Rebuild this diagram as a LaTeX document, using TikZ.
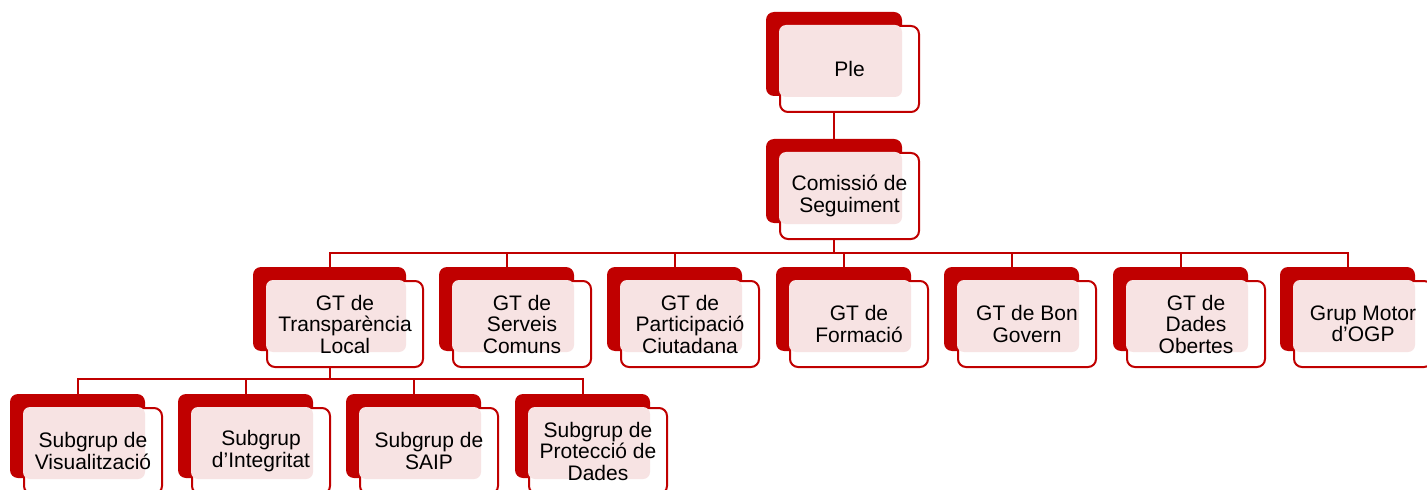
\documentclass[tikz,border=0pt]{standalone}
\usepackage{fontspec}
\setmainfont{Liberation Sans}
\usetikzlibrary{backgrounds}
\definecolor{dred}{RGB}{192,0,0}
\definecolor{lpink}{RGB}{247,227,227}
\tikzset{
  every node/.style={inner sep=0pt, outer sep=0pt},
  backbox/.style={rectangle, rounded corners=8bp, fill=dred, minimum height=84bp},
  frontbox/.style={rectangle, rounded corners=8bp, fill=white, draw=dred, line width=2bp, minimum height=86bp},
  pinkbox/.style={rectangle, rounded corners=7bp, fill=lpink, minimum height=72bp},
  lbl/.style={align=center, text=black, font=\fontsize{21bp}{21.5bp}\selectfont},
  conn/.style={draw=dred, line width=2bp}
}
% #1 name, #2 x, #3 y (top-left of back box), #4 back width, #5 text
\newcommand\orgbox[5]{%
  \node[backbox, minimum width=#4bp, anchor=north west] (#1b) at (#2,#3) {};
  \node[frontbox, minimum width=#4bp+3bp, anchor=north west] (#1f) at (#2+14,#3+14) {};
  \node[pinkbox, minimum width=#4bp-13bp, anchor=north west] (#1p) at (#2+13,#3+13) {};
  \node[lbl] (#1t) at (#1f.center) {#5};
}
\begin{document}
\begin{tikzpicture}[x=1bp, y=-1bp]
\useasboundingbox (0,0) rectangle (1427,490);
\orgbox{ple}{766}{12}{136}{Ple}
\orgbox{com}{766}{139}{136}{Comissió de\\Seguiment}
\orgbox{gta}{253}{267}{153}{GT de\\Transparència\\Local}
\orgbox{gtb}{439}{267}{135}{GT de\\Serveis\\Comuns}
\orgbox{gtc}{607}{267}{135}{GT de\\Participació\\Ciutadana}
\orgbox{gtd}{776}{267}{135}{GT de\\Formació}
\orgbox{gte}{944}{267}{135}{GT de Bon\\Govern}
\orgbox{gtf}{1113}{267}{135}{GT de\\Dades\\Obertes}
\orgbox{gtg}{1280}{267}{135}{Grup Motor\\d’OGP}
\orgbox{sa}{10}{394}{135}{Subgrup de\\Visualització}
\orgbox{sb}{178}{394}{135}{Subgrup\\d’Integritat}
\orgbox{sc}{346}{394}{135}{Subgrup de\\SAIP}
\orgbox{sd}{515}{394}{135}{Subgrup de\\Protecció de\\Dades}
\coordinate (bar1) at (0,253);
\coordinate (bar2) at (0,379);
\begin{scope}[on background layer]
\draw[conn] (pleb.south) -- (comb.north);
\foreach \c in {gta,gtb,gtc,gtd,gte,gtf,gtg}{
  \draw[conn] (comb.south) -- (comb.south |- bar1) -| (\c b.north);
}
\foreach \c in {sa,sb,sc,sd}{
  \draw[conn] (gtab.south) -- (gtab.south |- bar2) -| (\c b.north);
}
\end{scope}
\end{tikzpicture}
\end{document}
